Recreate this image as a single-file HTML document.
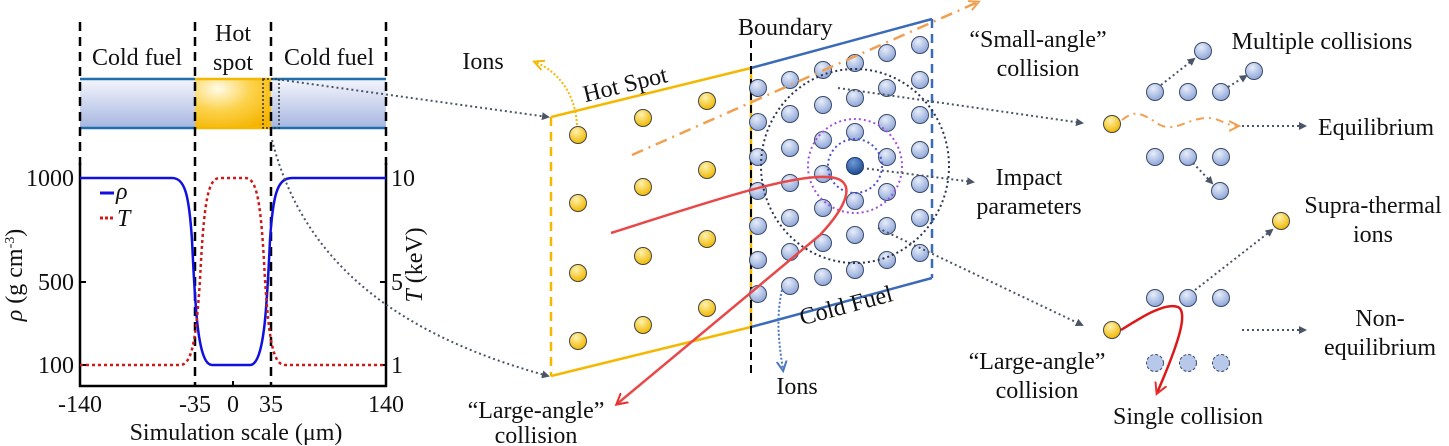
<!DOCTYPE html>
<html><head><meta charset="utf-8"><style>
body{margin:0;background:#fff}
svg{display:block}
text{font-family:"Liberation Serif",serif;font-size:24px;fill:#111}
</style></head><body>
<svg width="1449" height="446" viewBox="0 0 1449 446" xmlns="http://www.w3.org/2000/svg">
<defs>
<radialGradient id="bg" cx="0.4" cy="0.3" r="0.7"><stop offset="0" stop-color="#e8eefa"/><stop offset="1" stop-color="#8ea6d8"/></radialGradient>
<radialGradient id="yg" cx="0.4" cy="0.3" r="0.7"><stop offset="0" stop-color="#fff2b0"/><stop offset="1" stop-color="#f0b800"/></radialGradient>
<radialGradient id="dg" cx="0.4" cy="0.3" r="0.7"><stop offset="0" stop-color="#6f9ad8"/><stop offset="1" stop-color="#1f4a90"/></radialGradient>
<linearGradient id="tb" x1="0" y1="0" x2="0" y2="1"><stop offset="0" stop-color="#f4f6fc"/><stop offset="1" stop-color="#a6b6e0"/></linearGradient>
<radialGradient id="ty" cx="0.3" cy="0.2" r="0.9"><stop offset="0" stop-color="#fffbe8"/><stop offset="0.5" stop-color="#fcd24a"/><stop offset="1" stop-color="#f5b400"/></radialGradient>
<marker id="ag" markerWidth="8" markerHeight="8" refX="6" refY="4" orient="auto" markerUnits="userSpaceOnUse"><path d="M0,0 L8,4 L0,8 z" fill="#4a5568"/></marker>
<marker id="ar" markerWidth="14" markerHeight="14" refX="10" refY="7" orient="auto" markerUnits="userSpaceOnUse"><path d="M0,1 L11,7 L0,13" fill="none" stroke="#e83030" stroke-width="2"/></marker>
<marker id="ao" markerWidth="12" markerHeight="12" refX="9" refY="6" orient="auto" markerUnits="userSpaceOnUse"><path d="M0,1 L10,6 L0,11" fill="none" stroke="#f0a050" stroke-width="2"/></marker>
<marker id="ay" markerWidth="12" markerHeight="12" refX="9" refY="6" orient="auto" markerUnits="userSpaceOnUse"><path d="M0,1 L10,6 L0,11" fill="none" stroke="#f5b800" stroke-width="2"/></marker>
<marker id="ab" markerWidth="12" markerHeight="12" refX="9" refY="6" orient="auto" markerUnits="userSpaceOnUse"><path d="M0,1 L10,6 L0,11" fill="none" stroke="#4a78c0" stroke-width="2"/></marker>
</defs>

<!-- LEFT PANEL -->
<rect x="80" y="79" width="115" height="49" fill="url(#tb)"/>
<rect x="271" y="79" width="115" height="49" fill="url(#tb)"/>
<rect x="195" y="79" width="76" height="49" fill="url(#ty)"/>
<g stroke="#1f6fb0" stroke-width="2.5"><line x1="80" y1="79" x2="195" y2="79"/><line x1="80" y1="128" x2="195" y2="128"/><line x1="271" y1="79" x2="386" y2="79"/><line x1="271" y1="128" x2="386" y2="128"/></g>
<g stroke="#f5b800" stroke-width="2.5"><line x1="195" y1="79" x2="271" y2="79"/><line x1="195" y1="128" x2="271" y2="128"/></g>
<rect x="263" y="79" width="16" height="49" fill="none" stroke="#333" stroke-width="1.5" stroke-dasharray="2,2"/>
<g stroke="#000" stroke-width="2.5" stroke-dasharray="9,6"><line x1="80" y1="22" x2="80" y2="165"/><line x1="195" y1="22" x2="195" y2="386"/><line x1="271" y1="22" x2="271" y2="386"/><line x1="386" y1="22" x2="386" y2="165"/></g>
<text x="137" y="65" text-anchor="middle">Cold fuel</text>
<text x="233" y="41" text-anchor="middle">Hot</text>
<text x="233" y="70" text-anchor="middle">spot</text>
<text x="329" y="65" text-anchor="middle">Cold fuel</text>
<path d="M80,163 V386 H386 V163" fill="none" stroke="#000" stroke-width="2.5"/>
<g stroke="#000" stroke-width="2"><line x1="80" y1="178" x2="86" y2="178"/><line x1="80" y1="282" x2="86" y2="282"/><line x1="80" y1="365" x2="86" y2="365"/><line x1="380" y1="178" x2="386" y2="178"/><line x1="380" y1="282" x2="386" y2="282"/><line x1="380" y1="365" x2="386" y2="365"/><line x1="233" y1="386" x2="233" y2="381"/></g>
<path d="M80,178 H172 C185,178 189,195 192,240 C195,300 197,365 212,365 H250 C265,365 267,300 270,240 C273,195 277,178 292,178 H386" fill="none" stroke="#1010e0" stroke-width="2.5"/>
<path d="M80,365 H180 C192,365 196,340 200,280 C204,200 208,178 220,178 H245 C257,178 261,200 265,280 C269,340 273,365 285,365 H386" fill="none" stroke="#d01818" stroke-width="2.5" stroke-dasharray="3,3"/>
<line x1="100" y1="193" x2="114" y2="193" stroke="#1010e0" stroke-width="3"/>
<text x="116" y="199" font-style="italic" font-size="19">ρ</text>
<line x1="100" y1="218" x2="114" y2="218" stroke="#d01818" stroke-width="3" stroke-dasharray="3,2"/>
<text x="117" y="226" font-style="italic" font-size="21">T</text>
<g font-size="22"><text x="74" y="186" text-anchor="end">1000</text><text x="74" y="290" text-anchor="end">500</text><text x="74" y="373" text-anchor="end">100</text>
<text x="391" y="186">10</text><text x="391" y="290">5</text><text x="391" y="373">1</text>
<text x="80" y="412" text-anchor="middle">-140</text><text x="195" y="412" text-anchor="middle">-35</text><text x="233" y="412" text-anchor="middle">0</text><text x="271" y="412" text-anchor="middle">35</text><text x="386" y="412" text-anchor="middle">140</text></g>
<text x="236" y="440" text-anchor="middle">Simulation scale (μm)</text>
<text transform="translate(22,275) rotate(-90)" text-anchor="middle"><tspan font-style="italic">ρ</tspan> (g cm<tspan font-size="14" dy="-8">-3</tspan><tspan dy="8">)</tspan></text>
<text transform="translate(422,265) rotate(-90)" text-anchor="middle"><tspan font-style="italic">T</tspan> (keV)</text>

<!-- connectors from tube -->
<path d="M282,80 L548,117" fill="none" stroke="#4a5568" stroke-width="2" stroke-dasharray="2,3" marker-end="url(#ag)"/>
<path d="M272,140 C300,250 380,330 548,376" fill="none" stroke="#4a5568" stroke-width="2" stroke-dasharray="2,3" marker-end="url(#ag)"/>

<!-- MIDDLE PANEL -->
<g stroke="#f5b800" stroke-width="2.5" fill="none"><line x1="551" y1="117" x2="751" y2="68"/><line x1="551" y1="376" x2="751" y2="327"/><line x1="551" y1="117" x2="551" y2="376" stroke-dasharray="9,6"/><line x1="751" y1="68" x2="751" y2="327"/></g>
<g stroke="#3a6ab8" stroke-width="2.5" fill="none"><line x1="751" y1="68" x2="932" y2="19"/><line x1="751" y1="327" x2="932" y2="278"/><line x1="932" y1="19" x2="932" y2="278" stroke-dasharray="9,6"/></g>
<line x1="751" y1="40" x2="751" y2="377" stroke="#000" stroke-width="2" stroke-dasharray="8,5"/>
<text x="738" y="36" text-anchor="middle" x-fix="1"></text>
<text x="737" y="35" text-anchor="start" font-size="0"></text>
<text x="738" y="35">Boundary</text>
<text transform="translate(627,92) rotate(-13.8)" text-anchor="middle">Hot Spot</text>
<text transform="translate(848,313) rotate(-15)" text-anchor="middle">Cold Fuel</text>

<g fill="url(#yg)" stroke="#444" stroke-width="1">
<circle cx="578" cy="135" r="8.5"/><circle cx="578" cy="203" r="8.5"/><circle cx="578" cy="273" r="8.5"/><circle cx="578" cy="341" r="8.5"/>
<circle cx="643" cy="118" r="8.5"/><circle cx="643" cy="187" r="8.5"/><circle cx="643" cy="256" r="8.5"/><circle cx="643" cy="325" r="8.5"/>
<circle cx="707" cy="101" r="8.5"/><circle cx="707" cy="170" r="8.5"/><circle cx="707" cy="239" r="8.5"/><circle cx="707" cy="308" r="8.5"/>
</g>
<g fill="url(#bg)" stroke="#3a4a6a" stroke-width="1">
<circle cx="758" cy="88" r="8.5"/><circle cx="758" cy="122" r="8.5"/><circle cx="758" cy="157" r="8.5"/><circle cx="758" cy="191" r="8.5"/><circle cx="758" cy="226" r="8.5"/><circle cx="758" cy="260" r="8.5"/><circle cx="758" cy="294" r="8.5"/>
<circle cx="790" cy="80" r="8.5"/><circle cx="790" cy="114" r="8.5"/><circle cx="790" cy="148" r="8.5"/><circle cx="790" cy="183" r="8.5"/><circle cx="790" cy="218" r="8.5"/><circle cx="790" cy="252" r="8.5"/><circle cx="790" cy="286" r="8.5"/>
<circle cx="823" cy="70" r="8.5"/><circle cx="823" cy="105" r="8.5"/><circle cx="823" cy="140" r="8.5"/><circle cx="823" cy="174" r="8.5"/><circle cx="823" cy="208" r="8.5"/><circle cx="823" cy="243" r="8.5"/><circle cx="823" cy="277" r="8.5"/>
<circle cx="855" cy="63" r="8.5"/><circle cx="855" cy="98" r="8.5"/><circle cx="855" cy="132" r="8.5"/><circle cx="855" cy="201" r="8.5"/><circle cx="855" cy="235" r="8.5"/><circle cx="855" cy="270" r="8.5"/>
<circle cx="887" cy="53" r="8.5"/><circle cx="887" cy="88" r="8.5"/><circle cx="887" cy="123" r="8.5"/><circle cx="887" cy="157" r="8.5"/><circle cx="887" cy="192" r="8.5"/><circle cx="887" cy="226" r="8.5"/><circle cx="887" cy="260" r="8.5"/>
<circle cx="920" cy="45" r="8.5"/><circle cx="920" cy="80" r="8.5"/><circle cx="920" cy="115" r="8.5"/><circle cx="920" cy="150" r="8.5"/><circle cx="920" cy="184" r="8.5"/><circle cx="920" cy="218" r="8.5"/><circle cx="920" cy="253" r="8.5"/>
</g>
<circle cx="855" cy="166" r="8.5" fill="url(#dg)" stroke="#1a3a70"/>
<circle cx="855" cy="166" r="27" fill="none" stroke="#4a50d0" stroke-width="2" stroke-dasharray="2,3"/>
<circle cx="855" cy="166" r="47" fill="none" stroke="#a050e0" stroke-width="2" stroke-dasharray="2,3"/>
<ellipse cx="855" cy="166" rx="94" ry="97" fill="none" stroke="#2a3550" stroke-width="2" stroke-dasharray="2,3"/>

<line x1="632" y1="155" x2="978" y2="2" stroke="#f0a050" stroke-width="2.5" stroke-dasharray="12,6,2,6" marker-end="url(#ao)"/>
<path d="M611,233 C700,205 800,170 835,178 C855,183 848,205 820,235 L617,404" fill="none" stroke="#e84848" stroke-width="2.5" marker-end="url(#ar)"/>

<text x="483" y="69" text-anchor="middle">Ions</text>
<path d="M577,125 C575,90 555,70 535,62" fill="none" stroke="#f5b800" stroke-width="2" stroke-dasharray="2,2" marker-end="url(#ay)"/>
<text x="797" y="394" text-anchor="middle">Ions</text>
<path d="M782,290 C775,320 780,350 783,370" fill="none" stroke="#4a78c0" stroke-width="2" stroke-dasharray="2,2" marker-end="url(#ab)"/>
<text x="536" y="418" text-anchor="middle">“Large-angle”</text>
<text x="536" y="443" text-anchor="middle">collision</text>

<!-- dotted arrows to right -->
<path d="M838,88 L1082,123" fill="none" stroke="#4a5568" stroke-width="2" stroke-dasharray="2,3" marker-end="url(#ag)"/>
<path d="M862,168 L973,182" fill="none" stroke="#4a5568" stroke-width="2" stroke-dasharray="2,3" marker-end="url(#ag)"/>
<path d="M878,228 L1082,325" fill="none" stroke="#4a5568" stroke-width="2" stroke-dasharray="2,3" marker-end="url(#ag)"/>

<text x="1038" y="47" text-anchor="middle">“Small-angle”</text>
<text x="1038" y="76" text-anchor="middle">collision</text>
<text x="1029" y="185" text-anchor="middle">Impact</text>
<text x="1029" y="214" text-anchor="middle">parameters</text>
<text x="1037" y="369" text-anchor="middle">“Large-angle”</text>
<text x="1037" y="398" text-anchor="middle">collision</text>

<!-- RIGHT PANEL -->
<g fill="url(#bg)" stroke="#3a4a6a" stroke-width="1">
<circle cx="1155" cy="92" r="8.5"/><circle cx="1188" cy="92" r="8.5"/><circle cx="1221" cy="92" r="8.5"/>
<circle cx="1203" cy="51" r="8.5"/><circle cx="1254" cy="71" r="8.5"/>
<circle cx="1155" cy="157" r="8.5"/><circle cx="1188" cy="157" r="8.5"/><circle cx="1221" cy="157" r="8.5"/><circle cx="1220" cy="191" r="8.5"/>
<circle cx="1155" cy="298" r="8.5"/><circle cx="1188" cy="298" r="8.5"/><circle cx="1221" cy="298" r="8.5"/>
</g>
<g fill="#b8c8ea" stroke="#3a4a6a" stroke-width="1" stroke-dasharray="3,2">
<circle cx="1155" cy="363" r="8.5"/><circle cx="1188" cy="363" r="8.5"/><circle cx="1221" cy="363" r="8.5"/>
</g>
<g fill="url(#yg)" stroke="#444" stroke-width="1"><circle cx="1112" cy="124" r="8.5"/><circle cx="1112" cy="330" r="8.5"/><circle cx="1281" cy="221" r="8.5"/></g>
<g fill="none" stroke="#4a5568" stroke-width="2" stroke-dasharray="2,3" marker-end="url(#ag)">
<path d="M1161,85 L1194,59"/><path d="M1228,87 L1246,76"/><path d="M1193,163 L1212,183"/>
<path d="M1242,126 L1305,126"/><path d="M1195,290 L1272,230"/><path d="M1242,330 L1305,330"/>
</g>
<path d="M1122,120 C1135,110 1140,112 1160,125 C1175,132 1185,120 1205,118 C1220,117 1225,126 1238,126" fill="none" stroke="#f0a050" stroke-width="2" stroke-dasharray="8,5,2,5" marker-end="url(#ao)"/>
<path d="M1121,330 C1140,318 1165,302 1178,307 C1188,312 1180,340 1157,393" fill="none" stroke="#dd1818" stroke-width="2.5" marker-end="url(#ar)"/>
<text x="1322" y="49" text-anchor="middle">Multiple collisions</text>
<text x="1318" y="135">Equilibrium</text>
<text x="1373" y="213" text-anchor="middle">Supra-thermal</text>
<text x="1373" y="242" text-anchor="middle">ions</text>
<text x="1380" y="326" text-anchor="middle">Non-</text>
<text x="1380" y="355" text-anchor="middle">equilibrium</text>
<text x="1188" y="424" text-anchor="middle">Single collision</text>
</svg>
</body></html>
